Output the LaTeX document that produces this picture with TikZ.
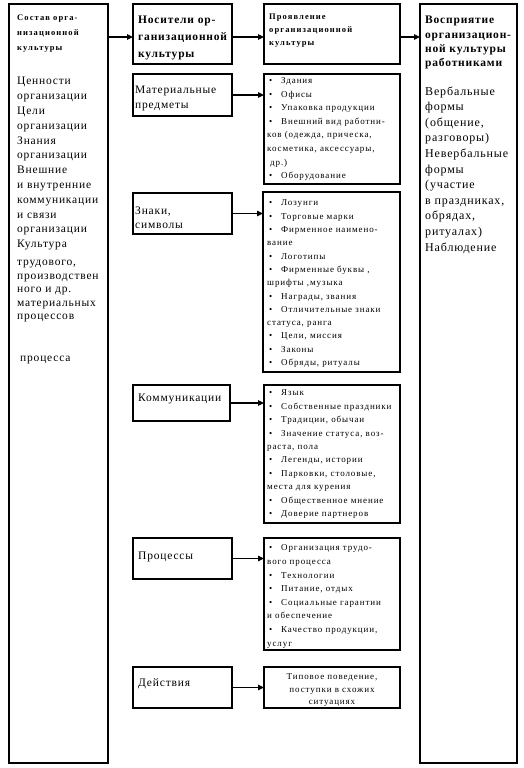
\documentclass[tikz,border=0pt]{standalone}
\usepackage{fontspec}
\setmainfont{Liberation Serif}
\newfontfamily\lsA[LetterSpace=7]{Liberation Serif}
\newfontfamily\lsB[LetterSpace=10]{Liberation Serif}
\newfontfamily\lsC[LetterSpace=13]{Liberation Serif}
\usetikzlibrary{arrows.meta}
\newcommand\bu{\makebox[14pt][l]{\hspace{2pt}•}}
\newcommand\fr{\rule{0pt}{.75em}}
\begin{document}
\begin{tikzpicture}[x=1pt,y=-1pt,
  box/.style={draw, line width=1.2pt, anchor=north west, inner sep=0, outer sep=0},
  arr/.style={line width=1.1pt, -{Triangle[length=6pt,width=5.5pt]}},
  tl/.style={anchor=north west, inner sep=0, align=left},
  reg/.style={font=\lsA\fontsize{11.5}{#1}\selectfont},
  regb/.style={font=\lsA\bfseries\fontsize{11.5}{#1}\selectfont},
  rr/.style={font=\lsA\fontsize{12}{#1}\selectfont},
  lst/.style={font=\lsB\fontsize{9}{#1}\selectfont},
  smb/.style={font=\lsC\bfseries\fontsize{8.5}{#1}\selectfont}]
\useasboundingbox (0,0) rectangle (524,768);
% boxes
\node[box, minimum width=99pt, minimum height=759pt] (L) at (9,4) {};
\node[box, minimum width=99pt, minimum height=60pt] (N1) at (133,4) {};
\node[box, minimum width=136pt, minimum height=60pt] (P1) at (264,4) {};
\node[box, minimum width=97pt, minimum height=759pt] (R) at (420,4) {};
\node[box, minimum width=99pt, minimum height=42pt] (N2) at (133,74) {};
\node[box, minimum width=136pt, minimum height=110pt] (P2) at (264,74) {};
\node[box, minimum width=99pt, minimum height=41pt] (N3) at (133,193) {};
\node[box, minimum width=137pt, minimum height=180pt] (P3) at (263,192) {};
\node[box, minimum width=97pt, minimum height=36pt] (N4) at (133,385) {};
\node[box, minimum width=136pt, minimum height=138pt] (P4) at (264,385) {};
\node[box, minimum width=99pt, minimum height=41pt] (N5) at (133,538) {};
\node[box, minimum width=136pt, minimum height=112pt] (P5) at (264,538) {};
\node[box, minimum width=99pt, minimum height=41pt] (N6) at (133,667) {};
\node[box, minimum width=136pt, minimum height=41pt] (P6) at (264,667) {};
% arrows
\coordinate (a1) at ([yshift=-3pt]N1.west);
\draw[arr] (L.east |- a1) -- (a1);
\draw[arr] (N1.east |- a1) -- (P1.west |- a1);
\draw[arr] (P1.east |- a1) -- (R.west |- a1);
\draw[arr] (N2.east) -- (P2.west |- N2.east);
\draw[arr] (N3.east) -- (P3.west |- N3.east);
\draw[arr] (N4.east) -- (P4.west |- N4.east);
\draw[arr] (N5.east) -- (P5.west |- N5.east);
\draw[arr] (N6.east) -- (P6.west |- N6.east);
% left column text
\node[tl, smb=15] (t0) at (17,14.3) {\fr Состав орга-\\низационной\\культуры};
\node[tl, reg=14.8] (t1) at (17,76) {\fr Ценности\\организации\\Цели\\организации\\Знания\\организации\\Внешние\\и внутренние\\коммуникации\\и связи\\организации\\Культура};
\node[tl, reg=13.5] (t2) at (17,257) {\fr трудового,\\производствен\\ного и др.\\материальных\\процессов};
\node[tl, reg=14] (t3) at (20,353) {\fr процесса};
% headers
\node[tl, regb=17] (t4) at (138,15) {\fr Носители ор-\\ганизационной\\культуры};
\node[tl, smb=13] (t5) at (269,13.3) {\fr Проявление\\организационной\\культуры};
\node[tl, regb=14.3] (t6) at (425,15) {\fr Восприятие\\организацион-\\ной культуры\\работниками};
\node[tl, rr=15.6] (t7) at (425,85.8) {\fr Вербальные\\формы\\(общение,\\разговоры)\\Невербальные\\формы\\(участие\\в праздниках,\\обрядах,\\ритуалах)\\Наблюдение};
% carriers
\node[tl, reg=15] (t8) at (135,85) {\fr Материальные\\предметы};
\node[tl, reg=13.5] (t9) at (135,206) {\fr Знаки,\\символы};
\node[tl, reg=14] (t10) at (138,393) {\fr Коммуникации};
\node[tl, reg=14] (t11) at (138,551) {\fr Процессы};
\node[tl, reg=14] (t12) at (138,678) {\fr Действия};
% lists
\node[tl, lst=13.6] (t13) at (267,76.5) {\fr\bu Здания\\\bu Офисы\\\bu Упаковка продукции\\\bu Внешний вид работни-\\ков (одежда, прическа,\\косметика, аксессуары,\\\hspace{3pt}др.)\\\bu Оборудование};
\node[tl, lst=13.3] (t14) at (267,199) {\fr\bu Лозунги\\\bu Торговые марки\\\bu Фирменное наимено-\\вание\\\bu Логотипы\\\bu Фирменные буквы ,\\шрифты ,музыка\\\bu Награды, звания\\\bu Отличительные знаки\\статуса, ранга\\\bu Цели, миссия\\\bu Законы\\\bu Обряды, ритуалы};
\node[tl, lst=13.4] (t15) at (267,389) {\fr\bu Язык\\\bu Собственные праздники\\\bu Традиции, обычаи\\\bu Значение статуса, воз-\\раста, пола\\\bu Легенды, истории\\\bu Парковки, столовые,\\места для курения\\\bu Общественное мнение\\\bu Доверие партнеров};
\node[tl, lst=13.6] (t16) at (267,544) {\fr\bu Организация трудо-\\вого процесса\\\bu Технологии\\\bu Питание, отдых\\\bu Социальные гарантии\\и обеспечение\\\bu Качество продукции,\\услуг};
\node[anchor=north, inner sep=0, align=center, lst=12.5] (t17) at (332,673) {\fr Типовое поведение,\\поступки в схожих\\ситуациях};
\end{tikzpicture}
\end{document}
